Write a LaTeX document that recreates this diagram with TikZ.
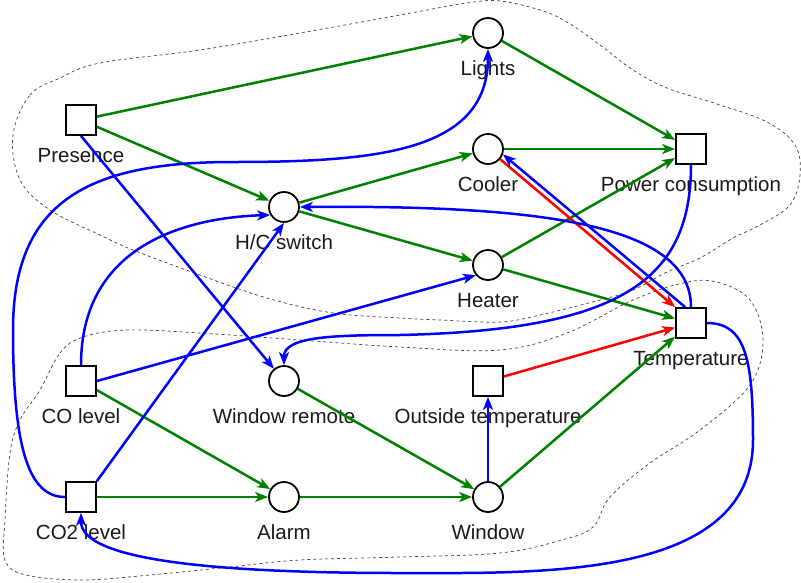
\documentclass[tikz,border=0pt]{standalone}
\usepackage{fontspec}
\setmainfont{Liberation Sans}
\usetikzlibrary{arrows.meta}
\definecolor{flowgreen}{RGB}{0,128,0}

\begin{document}
\begin{tikzpicture}[x=1pt, y=-1pt,
  every node/.style={font=\fontsize{20.5}{24}\selectfont, text=black!90},
  label distance=27pt,
  tag/.style={label={[anchor=base, inner sep=0pt]below:#1}},
  var/.style={draw, fill=white, line width=1.8pt, minimum size=30pt, inner sep=0pt},
  ctl/.style={var, circle},
  link/.style={line width=2.5pt, -{Stealth[length=13pt, width=10pt, inset=3.5pt]}},
  poslink/.style={link, flowgreen},
  neglink/.style={link, red},
  actlink/.style={link, blue},
  zone/.style={dash pattern=on 3pt off 3pt, line width=0.7pt, black!75}]
  \useasboundingbox (0,0) rectangle (801,582);

  % zones
  \draw[zone] plot[smooth cycle, tension=0.6] coordinates {
    (13,135) (30,95) (60,78) (100,63) (200,50) (300,33) (400,15) (467,3)
    (500,1) (540,10) (567,22) (600,45) (633,70) (667,88) (717,104) (767,122)
    (795,145) (800,175) (790,205) (760,225) (733,238) (700,258) (667,272)
    (633,290) (600,300) (540,315) (500,322) (440,320) (400,318) (333,313)
    (267,298) (200,275) (133,250) (100,235) (50,210) (20,180)};
  \draw[zone] plot[smooth cycle, tension=0.6] coordinates {
    (40,390) (60,353) (83,337) (127,330) (200,333) (300,340) (400,347)
    (500,350) (567,333) (633,300) (683,283) (717,282) (750,300) (763,340)
    (750,385) (700,430) (650,463) (610,497) (593,527) (562,540) (500,553)
    (400,557) (300,560) (230,567) (150,575) (82,580) (26,575) (5,560)
    (5,520) (10,453) (20,420)};

  \node[var, tag=Presence] (pres) at (81,120) {};
  \node[ctl, tag=Lights] (lights) at (488,33) {};
  \node[ctl, tag=Cooler] (cooler) at (488,149) {};
  \node[var, tag=Power consumption] (power) at (691,149) {};
  \node[ctl, tag=H/C switch] (hcsw) at (284,207) {};
  \node[ctl, tag=Heater] (heater) at (488,265) {};
  \node[var, tag=Temperature] (temp) at (691,323) {};
  \node[var, tag=CO level] (colev) at (81,381) {};
  \node[ctl, tag=Window remote] (wrem) at (284,381) {};
  \node[var, tag=Outside temperature] (outt) at (488,381) {};
  \node[var, tag=CO2 level] (co2lev) at (81,497) {};
  \node[ctl, tag=Alarm] (alarm) at (284,497) {};
  \node[ctl, tag=Window] (window) at (488,497) {};

  \draw[poslink] (pres) -- (lights);
  \draw[poslink] (pres) -- (hcsw);
  \draw[poslink] (lights) -- (power);
  \draw[poslink] (hcsw) -- (cooler);
  \draw[poslink] (hcsw) -- (heater);
  \draw[poslink] (cooler) -- (power);
  \draw[poslink] (heater) -- (power);
  \draw[poslink] (heater) -- (temp);
  \draw[poslink] (colev) -- (alarm);
  \draw[poslink] (co2lev) -- (alarm);
  \draw[poslink] (alarm) -- (window);
  \draw[poslink] (wrem) -- (window);
  \draw[poslink] (window) -- (temp);

  \draw[neglink] (cooler.-40) -- (temp.north west);
  \draw[neglink] (outt) -- (temp);

  \draw[actlink] (pres.south) -- (wrem);
  \draw[actlink] (colev.east) -- (heater.-140);
  \draw[actlink] (co2lev.north east) -- (hcsw.south);
  \draw[actlink] (temp.110) -- (cooler.-20);
  \draw[actlink] (window) -- (outt);
  \draw[actlink] (colev.north) .. controls +(0,-116) and +(-91,3) .. (hcsw.-150);
  \draw[actlink] (temp.north) .. controls +(0,-83) and +(241,-2) .. (hcsw.east);
  \draw[actlink] (power.south) .. controls +(0,116) and +(220,-5) .. (400,335)
    .. controls +(-70,0) and +(0,-28) .. (wrem.north);
  \draw[actlink] (co2lev.west) .. controls +(-36,0) and +(0,120) .. (13,330)
    .. controls +(0,-130) and +(-143,0) .. (233,162)
    .. controls +(147,0) and +(0,102) .. (lights.south);
  \draw[actlink] (temp.east) .. controls +(39,0) and +(0,-80) .. (753,440)
    .. controls +(0,140) and +(140,0) .. (400,573)
    .. controls +(-180,0) and +(0,48) .. (co2lev.south);
\end{tikzpicture}
\end{document}
